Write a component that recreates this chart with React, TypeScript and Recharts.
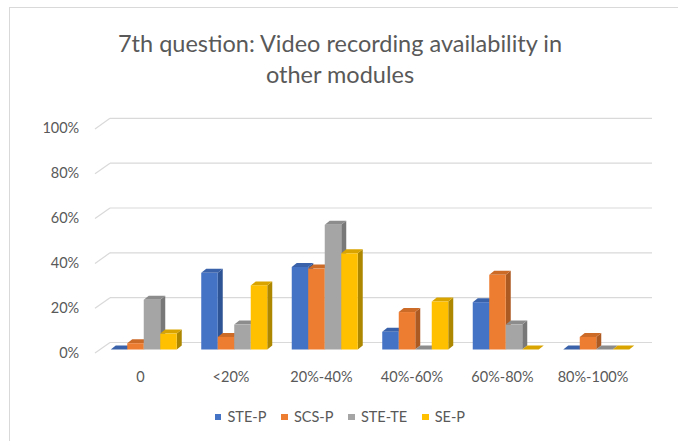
import React from 'react';
import { BarChart, Bar, XAxis, YAxis, CartesianGrid, Legend } from 'recharts';

const categories = ['0', '<20%', '20%-40%', '40%-60%', '60%-80%', '80%-100%'];
const stePValues = [0, 0.342, 0.368, 0.079, 0.211, 0];
const scsPValues = [0.028, 0.056, 0.361, 0.167, 0.333, 0.056];
const steTeValues = [0.222, 0.111, 0.556, 0, 0.111, 0];
const sePValues = [0.071, 0.286, 0.429, 0.214, 0, 0];
const yTicks = [0, 0.2, 0.4, 0.6, 0.8, 1];
const titleLines = ['7th question: Video recording availability in', 'other modules'];

const seriesDefs = [
  { key: 'STE-P', front: '#4472C4', top: '#3a62aa', side: '#2f5496' },
  { key: 'SCS-P', front: '#ED7D31', top: '#cc6a28', side: '#ad5a22' },
  { key: 'STE-TE', front: '#A5A5A5', top: '#8c8c8c', side: '#787878' },
  { key: 'SE-P', front: '#FFC000', top: '#d9a400', side: '#ad8700' },
];
const seriesOrder = seriesDefs.map((s) => s.key);

const data = categories.map((c, i) => ({
  category: c,
  'STE-P': stePValues[i],
  'SCS-P': scsPValues[i],
  'STE-TE': steTeValues[i],
  'SE-P': sePValues[i],
}));

const FONT = "Lato, 'Open Sans', sans-serif";
const TEXT = '#595959';
const GRID = '#d9d9d9';

const make3D = (front: string, top: string, side: string) => (props: any) => {
  const { x, y, width, height } = props;
  if (x == null || y == null || width == null) return <g />;
  const dx = 5;
  const dy = 4;
  const h = Math.max(Number(height) || 0, 0);
  const x0 = x;
  const x1 = x + width;
  const yT = y;
  const yB = y + h;
  return (
    <g>
      <polygon points={`${x1},${yT} ${x1 + dx},${yT - dy} ${x1 + dx},${yB - dy} ${x1},${yB}`} fill={side} />
      <polygon points={`${x0},${yT} ${x0 + dx},${yT - dy} ${x1 + dx},${yT - dy} ${x1},${yT}`} fill={top} />
      {h > 0 && <rect x={x0} y={yT} width={width} height={h} fill={front} />}
    </g>
  );
};

const gridLine = (p: any) => {
  const { x1, x2, y1 } = p;
  return (
    <g key={p.key}>
      <line x1={x1 + 11.25} y1={y1 - 7} x2={x2 + 10.25} y2={y1 - 7} stroke={GRID} strokeWidth={1.2} />
      <line x1={x1 - 3.75} y1={y1 + 3.6} x2={x1 + 11.25} y2={y1 - 7} stroke={GRID} strokeWidth={1.2} />
    </g>
  );
};

const YTick = (props: any) => {
  const { x, y, payload } = props;
  return (
    <text x={x} y={y + 3} dy="0.35em" textAnchor="end" fill={TEXT} fontSize={14.5} fontFamily={FONT}>
      {`${Math.round(payload.value * 100)}%`}
    </text>
  );
};

const XTick = (props: any) => {
  const { x, y, payload } = props;
  return (
    <text x={x - 3.5} y={y + 32} textAnchor="middle" fill={TEXT} fontSize={14.5} fontFamily={FONT}>
      {payload.value}
    </text>
  );
};

const renderLegend = (props: any) => {
  const payload = [...(props.payload || [])].sort(
    (a: any, b: any) => seriesOrder.indexOf(a.value) - seriesOrder.indexOf(b.value)
  );
  return (
    <div style={{ display: 'flex', justifyContent: 'center', alignItems: 'center', fontFamily: FONT, fontSize: 14.5, color: TEXT, lineHeight: '18px' }}>
      {payload.map((item: any, i: number) => (
        <div key={item.value} style={{ display: 'flex', alignItems: 'center', marginRight: i < payload.length - 1 ? 15 : 0 }}>
          <div style={{ width: 6.5, height: 6.5, background: item.color, marginRight: 6 }} />
          <span>{item.value}</span>
        </div>
      ))}
    </div>
  );
};

export default function App() {
  return (
    <div style={{ position: 'absolute', left: 0, top: 0, width: 678, height: 441, overflow: 'hidden', background: '#fff' }}>
      <div style={{ position: 'absolute', left: 9, top: 7, width: 720, height: 480, border: '1px solid #d9d9d9', boxSizing: 'border-box' }} />
      <div style={{ position: 'absolute', left: 0, top: 0, width: 680, textAlign: 'center', fontFamily: FONT, fontSize: 23.5, color: TEXT }}>
        <div style={{ position: 'absolute', left: 0, width: 680, top: 29, lineHeight: '28px' }}>{titleLines[0]}</div>
        <div style={{ position: 'absolute', left: 0, width: 680, top: 60, lineHeight: '28px' }}>{titleLines[1]}</div>
      </div>
      <div style={{ position: 'absolute', left: 0, top: 0 }}>
        <BarChart
          width={678}
          height={441}
          data={data}
          margin={{ top: 125.3, right: 36.25, bottom: 61.5, left: 0 }}
          barGap={0}
        >
          <CartesianGrid vertical={false} horizontal={gridLine} />
          <XAxis dataKey="category" axisLine={false} tickLine={false} tickSize={0} tickMargin={0} height={30} tick={<XTick />} interval={0} />
          <YAxis domain={[0, 1]} ticks={yTicks} axisLine={false} tickLine={false} tickSize={0} tickMargin={19.5} width={98.75} tick={<YTick />} interval={0} />
          <Legend
            layout="horizontal"
            verticalAlign="middle"
            align="center"
            content={renderLegend}
            wrapperStyle={{ position: 'absolute', left: 0, top: 408, width: 680, height: 18 }}
          />
          {seriesDefs.map((s) => (
            <Bar
              key={s.key}
              dataKey={s.key}
              name={s.key}
              fill={s.front}
              barSize={16.5}
              isAnimationActive={false}
              shape={make3D(s.front, s.top, s.side)}
            />
          ))}
        </BarChart>
      </div>
    </div>
  );
}
